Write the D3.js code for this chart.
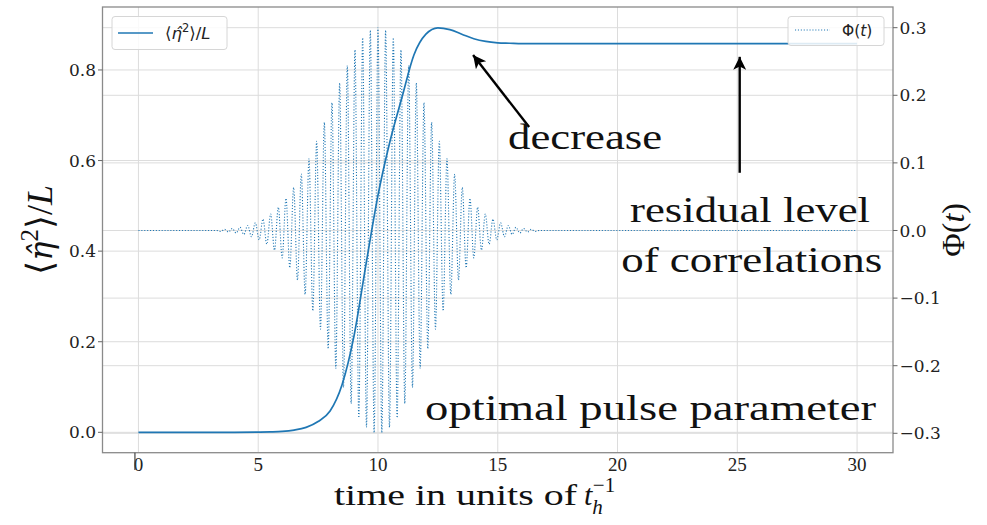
<!DOCTYPE html>
<html><head><meta charset="utf-8">
<script src="https://cdn.jsdelivr.net/npm/d3@7"></script>
<style>body{margin:0;background:#fff} svg{display:block}</style>
</head><body><svg id="c" width="987" height="525"></svg>
<script>
// ---------- data ----------
const etaTime  = [0, 1, 2, 3, 4, 5, 5.5, 6, 6.5, 7, 7.5, 8, 8.5, 9, 9.5, 10, 10.5, 11, 11.5, 12, 12.5, 13, 13.5, 14, 14.5, 15, 15.5, 16, 17, 18, 20, 22, 24, 26, 28, 30];
const etaValue = [0, 0, 0, 0, 0, 0.0005, 0.001, 0.002, 0.005, 0.011, 0.024, 0.047, 0.105, 0.213, 0.371, 0.523, 0.642, 0.739, 0.833, 0.879, 0.893, 0.889, 0.879, 0.869, 0.863, 0.860, 0.859, 0.858, 0.858, 0.858, 0.858, 0.858, 0.858, 0.858, 0.858, 0.858];

// turning points (maxima / minima) of the oscillating pulse Phi(t)
const phiTime  = [0, 3.28,
  3.44, 3.6, 3.76, 3.92, 4.08, 4.24, 4.4, 4.56, 4.72, 4.88, 5.04, 5.2, 5.36, 5.52, 5.68, 5.84, 6.0, 6.16, 6.32, 6.48, 6.64,
  6.8, 6.96, 7.12, 7.28, 7.44, 7.6, 7.76, 7.92, 8.08, 8.24, 8.4, 8.56, 8.72, 8.88, 9.04, 9.2, 9.36, 9.52, 9.68, 9.84,
  10.0,
  10.16, 10.32, 10.48, 10.64, 10.8, 10.96, 11.12, 11.28, 11.44, 11.6, 11.76, 11.92, 12.08, 12.24, 12.4, 12.56, 12.72, 12.88, 13.04, 13.2,
  13.36, 13.52, 13.68, 13.84, 14.0, 14.16, 14.32, 14.48, 14.64, 14.8, 14.96, 15.12, 15.28, 15.44, 15.6, 15.76, 15.92, 16.08, 16.24, 16.4, 16.56,
  16.72, 30];
const phiValue = [0, 0,
  -0.0014, 0.0018, -0.0023, 0.0030, -0.0038, 0.0047, -0.0059, 0.0074, -0.0092, 0.0113, -0.0139, 0.0168, -0.0203, 0.0244, -0.0291, 0.0345, -0.0406, 0.0475, -0.0552, 0.0637, -0.0732,
  0.0834, -0.0945, 0.106, -0.119, 0.132, -0.146, 0.160, -0.175, 0.189, -0.204, 0.218, -0.232, 0.244, -0.256, 0.267, -0.277, 0.285, -0.291, 0.296, -0.299,
  0.300,
  -0.299, 0.296, -0.291, 0.285, -0.277, 0.267, -0.256, 0.244, -0.232, 0.218, -0.204, 0.189, -0.175, 0.160, -0.146, 0.132, -0.119, 0.106, -0.0945, 0.0834,
  -0.0732, 0.0637, -0.0552, 0.0475, -0.0406, 0.0345, -0.0291, 0.0244, -0.0203, 0.0168, -0.0139, 0.0113, -0.0092, 0.0074, -0.0059, 0.0047, -0.0038, 0.0030, -0.0023, 0.0018, -0.0014,
  0, 0];

const xTicks = [0, 5, 10, 15, 20, 25, 30];
const leftTicks = [0, 0.2, 0.4, 0.6, 0.8];
const rightTicks = [-0.3, -0.2, -0.1, 0, 0.1, 0.2, 0.3];

// annotations (data coordinates of the left axis)
const arrows = [
  {from: [16.31, 0.674], to: [13.97, 0.833]},
  {from: [25.1, 0.573], to: [25.1, 0.829]}
];
const notes = [
  {text: "decrease", t: 15.43, v: 0.625, anchor: "start", width: 154},
  {text: "residual level", t: 25.53, v: 0.465, anchor: "middle", width: 240},
  {text: "of correlations", t: 25.6, v: 0.355, anchor: "middle", width: 261},
  {text: "optimal pulse parameter", t: 21.38, v: 0.027, anchor: "middle", width: 451}
];

// ---------- layout ----------
const svg = d3.select("#c");
const m = {l: 102.5, r: 893, t: 7, b: 452.7};
const x = d3.scaleLinear().domain([-1.5, 31.5]).range([m.l, m.r]);
const yL = d3.scaleLinear().domain([-0.045, 0.939]).range([m.b, m.t]);
const yR = d3.scaleLinear().domain([-0.3287, 0.3306]).range([m.b, m.t]);
const blue = "#1f77b4";
const gridC = "#dcdcdc";

svg.append("rect").attr("width", 987).attr("height", 525).attr("fill", "#fff");

// grids
const g = svg.append("g");
g.selectAll(".gx").data(xTicks).join("line")
  .attr("x1", d => x(d)).attr("x2", d => x(d)).attr("y1", m.t).attr("y2", m.b)
  .attr("stroke", gridC).attr("stroke-width", 1);
g.selectAll(".gl").data(leftTicks).join("line")
  .attr("x1", m.l).attr("x2", m.r).attr("y1", d => yL(d)).attr("y2", d => yL(d))
  .attr("stroke", gridC).attr("stroke-width", 1);
g.selectAll(".gr").data(rightTicks).join("line")
  .attr("x1", m.l).attr("x2", m.r).attr("y1", d => yR(d)).attr("y2", d => yR(d))
  .attr("stroke", gridC).attr("stroke-width", 1);

// eta line
const etaData = etaTime.map((t, i) => [t, etaValue[i]]);
svg.append("path").datum(etaData)
  .attr("d", d3.line().x(d => x(d[0])).y(d => yL(d[1])).curve(d3.curveMonotoneX))
  .attr("fill", "none").attr("stroke", blue).attr("stroke-width", 1.7);

// phi dotted line
const phiData = phiTime.map((t, i) => [t, phiValue[i]]);
svg.append("path").datum(phiData)
  .attr("d", d3.line().x(d => x(d[0])).y(d => yR(d[1])).curve(d3.curveMonotoneX))
  .attr("fill", "none").attr("stroke", blue).attr("stroke-width", 1.1)
  .attr("stroke-dasharray", "1.1,1.8");

// frame
svg.append("rect").attr("x", m.l).attr("y", m.t).attr("width", m.r - m.l).attr("height", m.b - m.t)
  .attr("fill", "none").attr("stroke", "#8a8a8a").attr("stroke-width", 1.3);

// left axis ticks + labels
const fmt = d3.format(".1f");
svg.selectAll(".tl").data(leftTicks).join("line")
  .attr("x1", m.l - 4.5).attr("x2", m.l).attr("y1", d => yL(d)).attr("y2", d => yL(d))
  .attr("stroke", "#666").attr("stroke-width", 1);
svg.selectAll(".ll").data(leftTicks).join("text")
  .attr("x", m.l - 6.5).attr("y", d => yL(d)).attr("dy", "0.36em")
  .attr("text-anchor", "end").attr("font-family", "DejaVu Serif").attr("font-size", 17)
  .attr("fill", "#222").text(d => fmt(d));

// right axis ticks + labels
svg.selectAll(".tr").data(rightTicks).join("line")
  .attr("x1", m.r).attr("x2", m.r + 4.5).attr("y1", d => yR(d)).attr("y2", d => yR(d))
  .attr("stroke", "#666").attr("stroke-width", 1);
svg.selectAll(".rl").data(rightTicks).join("text")
  .attr("x", m.r + 6.5).attr("y", d => yR(d)).attr("dy", "0.36em")
  .attr("text-anchor", "start").attr("font-family", "DejaVu Serif").attr("font-size", 17)
  .attr("fill", "#222").text(d => fmt(d));

// x tick labels
svg.selectAll(".xl").data(xTicks).join("text")
  .attr("x", d => x(d)).attr("y", 471)
  .attr("text-anchor", "middle").attr("font-family", "Liberation Serif").attr("font-size", 19)
  .attr("fill", "#222").text(d => d);
svg.append("line").attr("x1", x(0) - 3.5).attr("x2", x(0) - 3.5).attr("y1", m.b).attr("y2", 470)
  .attr("stroke", "#444").attr("stroke-width", 1.2);

// x axis label
svg.append("text").attr("x", 334).attr("y", 505)
  .attr("font-family", "Liberation Serif").attr("font-size", 30).attr("fill", "#111")
  .attr("textLength", 243).attr("lengthAdjust", "spacingAndGlyphs")
  .text("time in units of");
const xl2 = svg.append("text").attr("x", 584).attr("y", 505)
  .attr("font-family", "Liberation Serif").attr("font-size", 30).attr("fill", "#111");
xl2.append("tspan").attr("font-style", "italic").text("t");
xl2.append("tspan").attr("font-style", "italic").attr("font-size", 21).attr("dy", 9).text("h");
xl2.append("tspan").attr("font-size", 21).attr("dx", -10).attr("dy", -22).text("−1");

// left y label
const yl = svg.append("text").attr("transform", `translate(52,${(m.t + m.b) / 2}) rotate(-90)`)
  .attr("text-anchor", "middle").attr("font-family", "Liberation Serif").attr("font-size", 36).attr("fill", "#111");
yl.append("tspan").text("⟨");
yl.append("tspan").attr("font-family", "DejaVu Serif").attr("font-style", "italic").attr("font-size", 32).text("η\u0302");
yl.append("tspan").attr("font-size", 25).attr("dy", -14).text("2");
yl.append("tspan").attr("dy", 14).text("⟩/");
yl.append("tspan").attr("font-style", "italic").text("L");

// right y label
const yr = svg.append("text").attr("transform", `translate(964,${(m.t + m.b) / 2}) rotate(-90)`)
  .attr("text-anchor", "middle").attr("font-family", "Liberation Serif").attr("font-size", 32).attr("fill", "#111");
yr.append("tspan").text("Φ(");
yr.append("tspan").attr("font-style", "italic").text("t");
yr.append("tspan").text(")");

// legends
const lg1 = svg.append("g");
lg1.append("rect").attr("x", 112).attr("y", 16.5).attr("width", 115).attr("height", 33).attr("rx", 3)
  .attr("fill", "#fff").attr("fill-opacity", 0.85).attr("stroke", "#d6d6d6");
lg1.append("line").attr("x1", 118).attr("x2", 153).attr("y1", 33).attr("y2", 33)
  .attr("stroke", blue).attr("stroke-width", 1.7);
const lt1 = lg1.append("text").attr("x", 165).attr("y", 39).attr("font-family", "DejaVu Sans")
  .attr("font-size", 16.5).attr("fill", "#222");
lt1.append("tspan").text("⟨");
lt1.append("tspan").attr("font-style", "italic").text("η\u0302");
lt1.append("tspan").attr("font-size", 11.5).attr("dy", -7).text("2");
lt1.append("tspan").attr("dy", 7).text("⟩/");
lt1.append("tspan").attr("font-style", "italic").text("L");

const lg2 = svg.append("g");
lg2.append("rect").attr("x", 788).attr("y", 16.5).attr("width", 96).attr("height", 29).attr("rx", 3)
  .attr("fill", "#fff").attr("fill-opacity", 0.85).attr("stroke", "#d6d6d6");
lg2.append("line").attr("x1", 795).attr("x2", 830).attr("y1", 30).attr("y2", 30)
  .attr("stroke", blue).attr("stroke-width", 1.1).attr("stroke-dasharray", "1.1,1.8");
const lt2 = lg2.append("text").attr("x", 842).attr("y", 36).attr("font-family", "DejaVu Sans")
  .attr("font-size", 15.5).attr("fill", "#222");
lt2.append("tspan").text("Φ(");
lt2.append("tspan").attr("font-style", "italic").text("t");
lt2.append("tspan").text(")");

// arrows
const defs = svg.append("defs");
defs.append("marker").attr("id", "ah").attr("viewBox", "0 0 10 10").attr("refX", 10).attr("refY", 5)
  .attr("markerWidth", 17).attr("markerHeight", 13).attr("markerUnits", "userSpaceOnUse")
  .attr("orient", "auto")
  .append("path").attr("d", "M0,0 L10,5 L0,10 L2.5,5 Z").attr("fill", "#000");
svg.selectAll(".arr").data(arrows).join("line")
  .attr("x1", d => x(d.from[0])).attr("y1", d => yL(d.from[1]))
  .attr("x2", d => x(d.to[0])).attr("y2", d => yL(d.to[1]))
  .attr("stroke", "#000").attr("stroke-width", 2.4).attr("marker-end", "url(#ah)");

// annotation texts
svg.selectAll(".note").data(notes).join("text")
  .attr("x", d => x(d.t)).attr("y", d => yL(d.v))
  .attr("text-anchor", d => d.anchor)
  .attr("font-family", "Liberation Serif").attr("font-size", 36).attr("fill", "#111")
  .attr("textLength", d => d.width).attr("lengthAdjust", "spacingAndGlyphs")
  .text(d => d.text);
</script>
</body></html>
